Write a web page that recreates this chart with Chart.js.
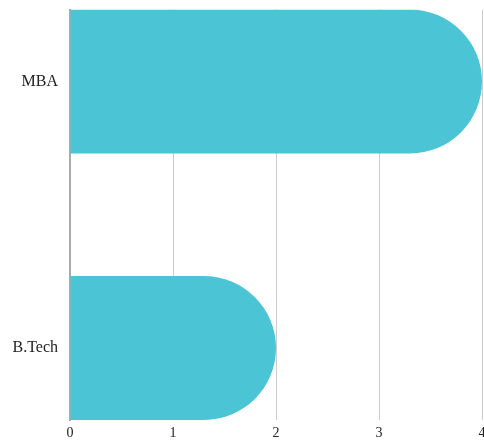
<!DOCTYPE html>
<html>
<head>
<meta charset="utf-8">
<script src="https://cdn.jsdelivr.net/npm/chart.js@4/dist/chart.umd.min.js"></script>
<style>
  html, body { margin: 0; padding: 0; background: #fff; }
  #wrap { width: 484px; height: 441px; }
</style>
</head>
<body>
<div id="wrap"><canvas id="degreeChart"></canvas></div>
<script>
const degrees = ['MBA', 'B.Tech'];
const counts = [4, 2];
const xTicks = [0, 1, 2, 3, 4];

const points = degrees.map((d, i) => ({ x: counts[i], y: i }));

const ctx = document.getElementById('degreeChart').getContext('2d');
const degreeChart = new Chart(ctx, {
    type: 'bar',
    data: {
        datasets: [{
            data: points,
            backgroundColor: '#4bc5d6',
            borderRadius: 200,
            borderSkipped: 'start',
            categoryPercentage: 1,
            barPercentage: 0.54
        }]
    },
    options: {
        indexAxis: 'y',
        responsive: true,
        maintainAspectRatio: false,
        animation: false,
        layout: { padding: { top: 0, right: 2, left: 0, bottom: 0 } },
        plugins: {
            legend: { display: false },
            tooltip: { enabled: false }
        },
        scales: {
            x: {
                min: xTicks[0],
                max: xTicks[xTicks.length - 1],
                afterBuildTicks: s => { s.ticks = xTicks.map(v => ({ value: v })); },
                // let the last label hang off the edge, keep the axis short
                afterFit: s => { s.paddingRight = 0; s.height = 21; },
                grid: { color: '#cccccc', drawTicks: false },
                border: { display: false },
                ticks: {
                    padding: 5,
                    color: '#222',
                    font: { family: 'Liberation Serif', size: 14 }
                }
            },
            y: {
                type: 'linear',
                reverse: true,
                offset: false,
                min: -0.27,
                max: 1.27,
                afterBuildTicks: s => { s.ticks = degrees.map((d, i) => ({ value: i })); },
                afterFit: s => { s.width = 70; },
                grid: {
                    display: true,
                    offset: false,
                    drawOnChartArea: false,
                    drawTicks: true,
                    tickLength: 12,
                    tickColor: 'rgba(0,0,0,0)'
                },
                border: { display: true, color: '#aaaaaa', width: 2 },
                ticks: {
                    padding: 0,
                    color: '#222',
                    font: { family: 'Liberation Serif', size: 16 },
                    callback: v => degrees[v]
                }
            }
        }
    }
});
</script>
</body>
</html>
